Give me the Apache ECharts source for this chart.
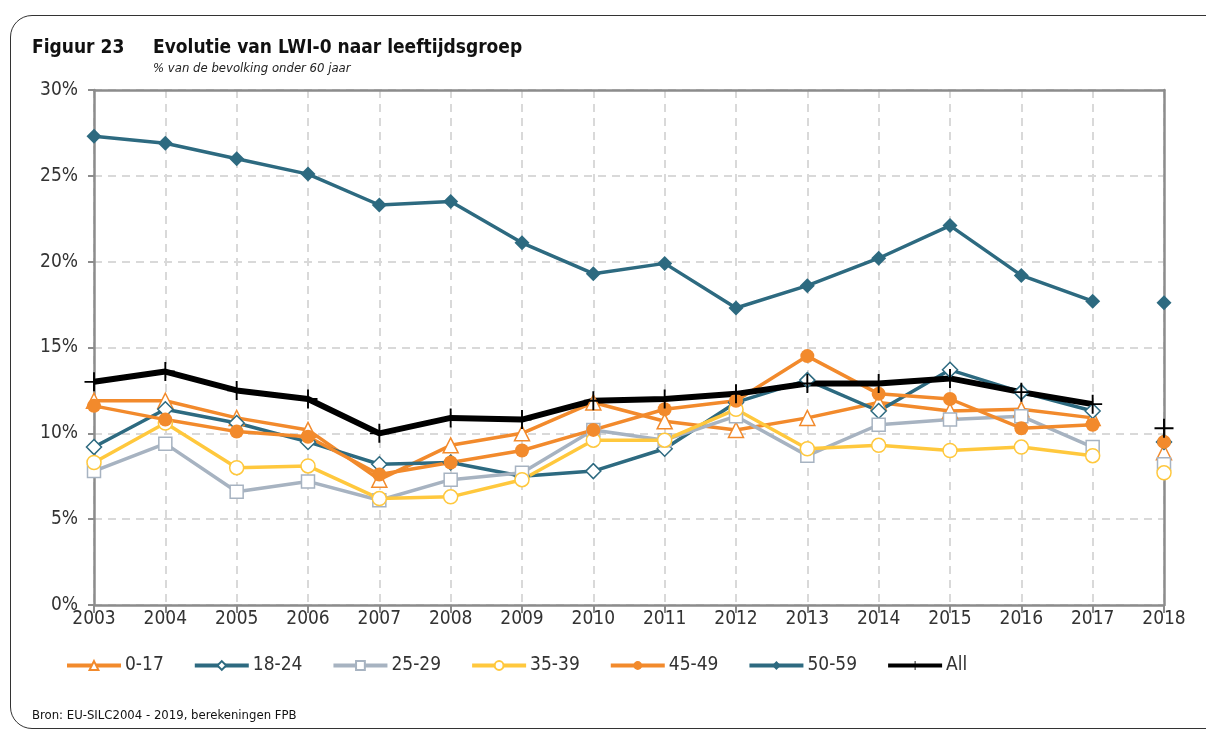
<!DOCTYPE html>
<html>
<head>
<meta charset="utf-8">
<script src="https://cdn.jsdelivr.net/npm/echarts@6/dist/echarts.min.js"></script>
<style>
  body { margin: 0; background: #fff; overflow: hidden; }
  #frame { position: absolute; left: 10px; top: 15px; width: 1260px; height: 712px;
           border: 1.5px solid #333; border-radius: 22px; }
  #chart { position: absolute; left: 0; top: 0; width: 1206px; height: 731px; }
</style>
</head>
<body>
<div id="frame"></div>
<div id="chart"></div>
<script>
// years on the x axis; the 2018 value stands alone (no line to it)
const years = ["2003", "2004", "2005", "2006", "2007", "2008", "2009", "2010",
               "2011", "2012", "2013", "2014", "2015", "2016", "2017", "2018"];

// % van de bevolking onder 60 jaar
const g0_17  = [11.9, 11.9, 10.9, 10.2, 7.3, 9.3, 10.0, 11.8, 10.7, 10.2, 10.9, 11.8, 11.3, 11.4, 10.9, 8.9];
const g18_24 = [9.2, 11.4, 10.6, 9.5, 8.2, 8.3, 7.5, 7.8, 9.1, 11.8, 13.1, 11.3, 13.7, 12.4, 11.3, 9.5];
const g25_29 = [7.8, 9.4, 6.6, 7.2, 6.1, 7.3, 7.7, 10.2, 9.6, 11.0, 8.7, 10.5, 10.8, 11.0, 9.2, 8.2];
const g35_39 = [8.3, 10.6, 8.0, 8.1, 6.2, 6.3, 7.3, 9.6, 9.6, 11.4, 9.1, 9.3, 9.0, 9.2, 8.7, 7.7];
const g45_49 = [11.6, 10.8, 10.1, 9.8, 7.6, 8.3, 9.0, 10.2, 11.4, 11.9, 14.5, 12.3, 12.0, 10.3, 10.5, 9.5];
const g50_59 = [27.3, 26.9, 26.0, 25.1, 23.3, 23.5, 21.1, 19.3, 19.9, 17.3, 18.6, 20.2, 22.1, 19.2, 17.7, 17.6];
const gAll   = [13.0, 13.6, 12.5, 12.0, 10.0, 10.9, 10.8, 11.9, 12.0, 12.3, 12.9, 12.9, 13.2, 12.4, 11.7, 10.3];

const yTicks = [0, 5, 10, 15, 20, 25, 30];

const teal = "#2d6a80";
const orange = "#f28a2c";
const grey = "#a7b3c1";
const yellow = "#ffc83d";
const axisGrey = "#8c8c8c";
const plus = "path://M9,0h2v20h-2zM0,9h20v2h-20z";

const groups = [
  { name: "0-17",  data: g0_17,  color: orange, symbol: "triangle", size: 15, hollow: true },
  { name: "18-24", data: g18_24, color: teal,   symbol: "diamond",  size: 15, hollow: true },
  { name: "25-29", data: g25_29, color: grey,   symbol: "rect",     size: 13, hollow: true },
  { name: "35-39", data: g35_39, color: yellow, symbol: "circle",   size: 14, hollow: true },
  { name: "45-49", data: g45_49, color: orange, symbol: "circle",   size: 14, hollow: false },
  { name: "50-59", data: g50_59, color: teal,   symbol: "diamond",  size: 15, hollow: false },
  { name: "All",   data: gAll,   color: "#000", symbol: plus,       size: 19, hollow: false, width: 6 }
];

const series = [];
groups.forEach(g => {
  const itemStyle = g.hollow
    ? { color: "#fff", borderColor: g.color, borderWidth: 1.5 }
    : { color: g.color };
  const last = g.data.length - 1;
  series.push({
    name: g.name, type: "line", data: g.data.slice(0, last),
    symbol: g.symbol, symbolSize: g.size, showAllSymbol: true,
    lineStyle: { color: g.color, width: g.width || 3.5 },
    itemStyle: itemStyle, z: 3
  });
  // stand-alone 2018 point
  series.push({
    name: g.name, type: "line", data: [[years[last], g.data[last]]],
    symbol: g.symbol, symbolSize: g.size,
    lineStyle: { color: g.color, width: g.width || 3.5 },
    itemStyle: itemStyle, z: 3
  });
});

const font = "'DejaVu Sans Condensed', 'DejaVu Sans', sans-serif";
const dashed = { show: true, lineStyle: { color: "#d9d9d9", type: [8, 6], width: 2 } };
const chart = echarts.init(document.getElementById("chart"));
chart.setOption({
  animation: false,
  textStyle: { fontFamily: font },
  title: [
    { text: "Figuur 23", left: 27, top: 34,
      textStyle: { fontFamily: font, fontSize: 19, fontWeight: "bold", color: "#111" } },
    { text: "Evolutie van LWI-0 naar leeftijdsgroep", left: 148, top: 34,
      subtext: "% van de bevolking onder 60 jaar", itemGap: 4,
      textStyle: { fontFamily: font, fontSize: 19, fontWeight: "bold", color: "#111" },
      subtextStyle: { fontFamily: font, fontSize: 13, fontStyle: "italic", color: "#222" } },
    { text: "Bron: EU-SILC2004 - 2019, berekeningen FPB", left: 27, top: 704,
      textStyle: { fontFamily: font, fontSize: 13, fontWeight: "normal", color: "#111" } }
  ],
  legend: {
    left: 60, top: 651, itemWidth: 54, itemHeight: 11, itemGap: 29,
    lineStyle: { width: 4 },
    textStyle: { fontFamily: font, fontSize: 19, color: "#333", padding: [0, 0, 0, -1] },
    data: groups.map(g => g.name)
  },
  grid: { left: 94, right: 42, top: 90, bottom: 126 },
  xAxis: [{
    type: "category", data: years, boundaryGap: false,
    axisLine: { lineStyle: { color: axisGrey, width: 2.5 } },
    axisTick: { show: true, length: 8, lineStyle: { color: axisGrey, width: 2 } },
    axisLabel: { fontFamily: font, fontSize: 19, color: "#333", margin: 5 },
    splitLine: dashed
  }, {
    // top edge of the plot frame
    type: "category", data: years, boundaryGap: false, position: "top",
    axisLine: { onZero: false, lineStyle: { color: axisGrey, width: 2.5 } },
    axisTick: { show: false }, axisLabel: { show: false }, splitLine: { show: false }
  }],
  yAxis: [{
    type: "value", min: yTicks[0], max: yTicks[yTicks.length - 1], interval: 5,
    axisLine: { show: true, lineStyle: { color: axisGrey, width: 2.5 } },
    axisTick: { show: true, length: 6, lineStyle: { color: axisGrey, width: 2 } },
    axisLabel: { fontFamily: font, fontSize: 19, color: "#333", margin: 16, formatter: "{value}%" },
    splitLine: dashed
  }, {
    // right edge of the plot frame
    type: "value", min: yTicks[0], max: yTicks[yTicks.length - 1], interval: 5, position: "right",
    axisLine: { show: true, onZero: false, lineStyle: { color: axisGrey, width: 2.5 } },
    axisTick: { show: false }, axisLabel: { show: false }, splitLine: { show: false }
  }],
  series: series
});
</script>
</body>
</html>
